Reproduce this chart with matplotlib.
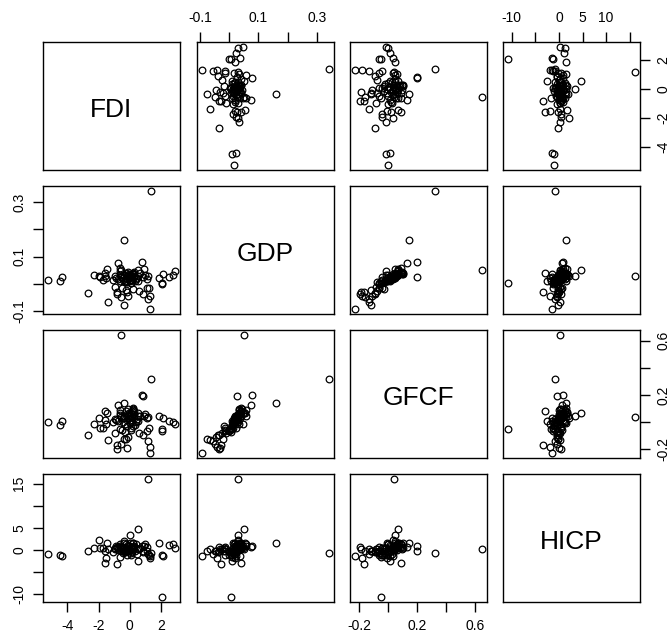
import matplotlib
matplotlib.use("Agg")
import matplotlib.pyplot as plt

plt.rcParams["font.family"] = ["Liberation Sans", "DejaVu Sans"]

names = ["FDI", "GDP", "GFCF", "HICP"]

fdi = [1.38, -0.55, 1.15, 2.05, -0.37, 1.31, -5.24, -4.46, -4.37,
       2.9, 2.8, 2.5, 2.16, 2.05, 1.86, 1.31, 1.24, 1.08, 1.08, 1.0,
       0.87, 0.94, 0.83, 0.78, 0.66, 0.55, 0.55, 0.24, 0.24, 0.21,
       -0.37, -1.4, -0.53, -0.19, -0.25, -0.83, -0.83, -0.94, -1.06, -0.94,
       -0.6, -0.6, -0.76, -1.47, -1.56, -1.7, -1.59, -1.93, -2.3, -1.98,
       -2.7, 0.0, -1.5,
       -0.05, 0.10, -0.20, 0.30, -0.40, 0.15, -0.10, 0.05, -0.30, 0.45,
       -0.55, 0.20, -0.15, 0.00, -0.65, 0.35, -0.25, 0.10, -0.45, 0.25,
       -0.05, -0.75, 0.50, -0.35, 0.05, -0.10, 0.40, -0.60, 0.15, -0.20,
       0.30, -0.90, 0.00, -0.30, 0.20,
       0.6, -0.1, 1.2, -0.5]
gdp = [0.342, 0.052, 0.030, 0.005, 0.162, -0.093, 0.015, 0.009, 0.024,
       0.047, 0.031, 0.024, 0.038, -0.002, 0.021, -0.043, -0.016, -0.016, 0.018, 0.032,
       -0.037, 0.056, 0.026, 0.079, 0.039, 0.052, 0.010, 0.040, 0.035, -0.018,
       -0.076, -0.065, -0.047, -0.031, -0.022, -0.036, -0.028, -0.010, 0.013, 0.030,
       0.047, 0.058, 0.076, 0.053, 0.040, 0.013, 0.028, 0.024, 0.032, 0.030,
       -0.034, 0.030, 0.020,
       0.020, 0.025, 0.018, 0.030, 0.022, 0.015, 0.028, 0.033, 0.012, 0.020,
       0.026, 0.038, 0.008, 0.016, 0.034, 0.010, 0.040, 0.005, 0.014, 0.024,
       0.036, 0.019, 0.029, 0.031, 0.002, 0.044, 0.017, 0.009, 0.027, 0.033,
       0.042, 0.021, 0.012, 0.006, 0.035,
       -0.025, -0.045, -0.055, -0.015]
gfcf = [0.32, 0.645, 0.040, -0.050, 0.145, -0.228, 0.000, -0.018, 0.012,
        -0.012, 0.0, 0.012, 0.03, -0.063, 0.046, -0.18, -0.04, -0.065, 0.03, 0.058,
        -0.092, 0.046, 0.197, 0.2, 0.05, 0.07, 0.01, 0.104, 0.092, -0.03,
        -0.12, -0.13, -0.16, -0.19, -0.12, -0.196, -0.17, -0.081, 0.0, 0.023,
        0.065, 0.09, 0.127, 0.07, 0.085, -0.04, 0.019, -0.04, -0.012, 0.03,
        -0.092, 0.047, -0.01,
        0.030, 0.045, 0.020, 0.060, 0.035, 0.005, 0.050, 0.065, -0.010, 0.025,
        0.040, 0.075, -0.030, 0.015, 0.055, -0.020, 0.085, -0.045, 0.000, 0.030,
        0.070, 0.010, 0.050, 0.045, -0.060, 0.095, 0.000, -0.050, 0.038, 0.060,
        0.080, 0.020, -0.005, -0.075, 0.100,
        -0.080, -0.110, -0.135, -0.060]
hicp = [-0.86, 0.2, 16.1, -10.8, 1.5, -1.5, -1.0, -1.1, -1.4,
        0.3, 1.2, 1.0, -1.4, -1.3, 1.5, -1.9, -1.2, -0.3, 0.5, 1.4,
        -0.5, 0.8, -0.35, 0.8, 0.3, 4.6, -2.6, 1.5, 0.1, 0.4,
        -0.3, 0.2, -0.4, 0.1, -0.2, 0.5, -3.3, 0.2, -0.5, 0.3,
        0.9, 1.2, 0.6, 1.6, -3.0, 0.4, -0.3, 0.4, 0.3, 2.2,
        -0.3, 3.4, -2.0,
        0.2, 0.5, -0.3, 0.8, 0.1, -0.6, 1.1, 0.4, -0.2, -0.9,
        0.7, 1.6, -1.1, 0.0, 0.3, -0.4, 1.3, -1.3, -0.7, 0.6,
        0.9, -0.1, 0.2, 2.0, -0.8, 0.5, 1.2, -1.6, -0.2, 0.0,
        0.7, 0.9, 1.5, -0.5, 0.3,
        0.1, -0.4, -0.9, 0.6]

data = [fdi, gdp, gfcf, hicp]

ticks = [[-4, -2, 0, 2],
         [-0.1, 0.0, 0.1, 0.2, 0.3],
         [-0.2, 0.0, 0.2, 0.4, 0.6],
         [-10, -5, 0, 5, 10, 15]]
# labels R keeps on each side (overlapping ones dropped)
labels_top = {1: ["-0.1", "", "0.1", "", "0.3"], 3: ["-10", "", "0", "5", "10", ""]}
labels_bottom = {0: ["-4", "-2", "0", "2"], 2: ["-0.2", "", "0.2", "", "0.6"]}
labels_left = {1: ["-0.1", "", "0.1", "", "0.3"], 3: ["-10", "", "0", "5", "", "15"]}
labels_right = {0: ["-4", "-2", "0", "2"], 2: ["-0.2", "", "0.2", "", "0.6"]}

W, H = 671, 639
col_x = [43, 197, 350, 503]
row_y = [42, 186, 330, 474]
pw, ph = 137, 128

fig = plt.figure(figsize=(W / 100, H / 100), dpi=100)


def lims(v):
    lo, hi = min(v), max(v)
    pad = (hi - lo) * 0.04
    return lo - pad, hi + pad


for i in range(4):
    for j in range(4):
        ax = fig.add_axes([col_x[j] / W, 1 - (row_y[i] + ph) / H, pw / W, ph / H])
        ax.set_xlim(lims(data[j]))
        ax.set_ylim(lims(data[i]))
        for s in ax.spines.values():
            s.set_linewidth(1.0)
        ax.tick_params(direction="out", length=7, width=1.0, labelsize=10,
                       bottom=False, top=False, left=False, right=False,
                       labelbottom=False, labeltop=False, labelleft=False, labelright=False)
        if i == j:
            ax.text(0.5, 0.47, names[i], transform=ax.transAxes, ha="center",
                    va="center", fontsize=19)
        else:
            ax.plot(data[j], data[i], "o", ms=4.8, mfc="none", mec="black", mew=0.9)

        if i == 0 and j in labels_top:
            ax.set_xticks(ticks[j], labels_top[j])
            ax.tick_params(axis="x", top=True, labeltop=True, pad=5.5)
        if i == 3 and j in labels_bottom:
            ax.set_xticks(ticks[j], labels_bottom[j])
            ax.tick_params(axis="x", bottom=True, labelbottom=True, pad=5.5)
        if j == 0 and i in labels_left:
            ax.set_yticks(ticks[i], labels_left[i])
            ax.tick_params(axis="y", left=True, labelleft=True, labelrotation=90, pad=5)
            for t in ax.get_yticklabels():
                t.set_va("center")
        if j == 3 and i in labels_right:
            ax.set_yticks(ticks[i], labels_right[i])
            ax.tick_params(axis="y", right=True, labelright=True, labelrotation=90, pad=5)
            for t in ax.get_yticklabels():
                t.set_va("center")

fig.savefig("out.png", dpi=100)
